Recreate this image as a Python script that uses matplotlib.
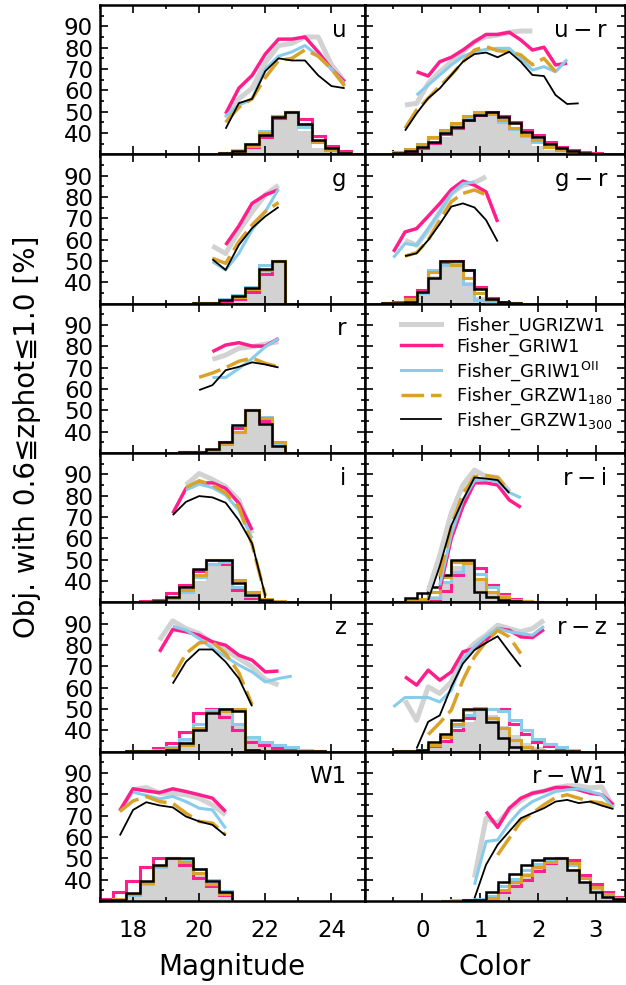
import numpy as np
import matplotlib
matplotlib.use("Agg")
import matplotlib.pyplot as plt
from matplotlib.ticker import FixedLocator, MultipleLocator
from matplotlib.lines import Line2D

plt.rcParams['font.family'] = ['DejaVu Sans']
plt.rcParams['mathtext.fontset'] = 'dejavusans'

NaN = np.nan

# ---------------- legend / series ----------------
method_names = ['Fisher_UGRIZW1', 'Fisher_GRIW1', r'Fisher_GRIW1$^{\mathrm{OII}}$',
                r'Fisher_GRZW1$_{180}$', r'Fisher_GRZW1$_{300}$']
method_colors = ['#d2d2d2', '#ff1e8c', '#87cdeb', '#d9a32a', '#000000']

# ================= Magnitude panels (left column) =================
# --- u ---
u_x = [20.8, 21.2, 21.6, 22.0, 22.4, 22.8, 23.2, 23.6, 24.0, 24.4]
u_ugrizw1 = [47, 56, 61, 73, 81, 82, 85, 85, 72, 64]
u_griw1 = [49, 61, 67, 77, 84, 84, 85, 78, 70, 64]
u_griw1oii = [48, 53, 56, 70, 76, 78, 81, 76, 70, 63]
u_grzw1_180 = [45, 52, 56, 66, 74, 75, 79, 76, 70, 62]
u_grzw1_300 = [42, 54, 56, 69, 75, 74, 74, 67, 62, 61]
u_hist_start = 20.6
u_h_ugrizw1 = [30.3, 31, 33, 39.5, 46, 50, 41, 33, 31, 30.3, 30.2]
u_h_griw1 = [30.5, 31, 33.5, 38, 47, 50, 46.5, 38.5, 34, 31.5, 30.3]
u_h_griw1oii = [30.5, 32, 35, 41, 48, 50, 43, 36, 32, 30.5, 30.2]
u_h_grzw1_180 = [30.5, 31.5, 34, 40, 48, 50, 44, 36, 32, 30.5, 30.2]
u_h_grzw1_300 = [30.5, 31.7, 34.8, 39.1, 47.6, 50, 44.2, 36.7, 32.8, 30.8, 30.2]

# --- g ---
g_x = [20.4, 20.8, 21.2, 21.6, 22.0, 22.4]
g_ugrizw1 = [57, 53.5, 64, 73, 81, 85.5]
g_griw1 = [NaN, 57.5, 66.4, 77, 81, 83.4]
g_griw1oii = [49.7, 45.8, 53.6, 64.6, 73.2, 83.7]
g_grzw1_180 = [51.3, 48.9, 59.1, 66.9, 73.2, 77.4]
g_grzw1_300 = [50.8, 45.8, 57.5, 65.4, 70.9, 75.3]
g_hist_start = 19.8
g_h_ugrizw1 = [30.2, 30.5, 31, 32.5, 36, 45, 50]
g_h_griw1 = [30.2, 30.5, 31, 32, 35.5, 44, 50]
g_h_griw1oii = [30.2, 30.5, 32, 34, 38, 48, 50]
g_h_grzw1_180 = [30.2, 30.5, 31.5, 33, 37, 46, 50]
g_h_grzw1_300 = [30.2, 30.5, 31.7, 33.6, 37.2, 46.3, 50]

# --- r ---
r_x = [20.0, 20.4, 20.8, 21.2, 21.6, 22.0, 22.4]
r_ugrizw1 = [NaN, 73.9, 75.9, 79.1, 79.8, 81, 82.2]
r_griw1 = [NaN, 77.5, 80.6, 81.7, 80.1, 80.1, 83.7]
r_griw1oii = [NaN, 65.4, 65.4, 69.6, 74.3, 79.8, 83.7]
r_grzw1_180 = [65.5, 67.5, 70, 73, 74.5, 72, 70.4]
r_grzw1_300 = [59.5, 61.8, 68.8, 70.4, 72.5, 71.5, 70.1]
r_hist_start = 19.4
r_h_ugrizw1 = [30.3, 30.5, 31.5, 34, 39, 50, 45, 33.5]
r_h_griw1 = [30.3, 30.5, 31.5, 35, 41.5, 50, 45, 34]
r_h_griw1oii = [30.3, 30.5, 31.5, 34, 40, 50, 47, 34]
r_h_grzw1_180 = [30.3, 30.5, 31.5, 34, 40, 50, 46.5, 35]
r_h_grzw1_300 = [30.3, 30.5, 32, 35, 43, 50, 43.5, 33.5]

# --- i ---
i_x = [19.2, 19.6, 20.0, 20.4, 20.8, 21.2, 21.6, 22.0]
i_ugrizw1 = [NaN, 85, 90.4, 87.6, 84.2, 77.9, 62.3, NaN]
i_griw1 = [71.7, 83.4, 86, 86, 83.4, 76.4, 63.9, NaN]
i_griw1oii = [NaN, 82.6, 85.4, 83.8, 80.3, 73.2, 60, NaN]
i_grzw1_180 = [NaN, 83.8, 87, 85, 81.3, 74.8, 57, 33]
i_grzw1_300 = [70.9, 77.1, 79.8, 79.2, 76.7, 68.5, 57.6, 33]
i_hist_start = 18.2
i_h_ugrizw1 = [30.3, 30.5, 31.5, 34, 40, 47, 49, 36, 32, 30.5, 30.2]
i_h_griw1 = [30.5, 31, 34.5, 38, 44.5, 50, 48, 36, 32, 30.5, 30.2]
i_h_griw1oii = [30.3, 30.5, 32, 35, 42, 48, 49, 37, 33, 31, 30.3]
i_h_grzw1_180 = [30.3, 30.5, 32, 36, 43, 50, 50, 40.5, 35, 31.5, 30.5]
i_h_grzw1_300 = [30.3, 30.7, 32.6, 37, 45.4, 50, 49.8, 39.2, 33.4, 31, 30.3]

# --- z ---
z_x = [18.8, 19.2, 19.6, 20.0, 20.4, 20.8, 21.2, 21.6, 22.0, 22.4, 22.8]
z_ugrizw1 = [82.3, 91.3, 87.7, 85.4, 80.7, 77.6, 73.7, 69.8, 63.8, 61.2, NaN]
z_griw1 = [76.8, 87.3, 86.2, 84.6, 81.5, 79.9, 75.2, 72.9, 67.4, 67.8, NaN]
z_griw1oii = [NaN, 88.8, 87, 83, 78.4, 74.5, 70.6, 67.4, 62.7, 64.3, 65.4]
z_grzw1_180 = [NaN, 65, 76, 81, 81.5, 76, 67, 52, NaN, NaN, NaN]
z_grzw1_300 = [NaN, 61.9, 72.1, 77.9, 77.9, 72.1, 64.3, 51.3, NaN, NaN, NaN]
z_hist_start = 17.8
z_h_ugrizw1 = [30.2, 30.3, 30.5, 31.5, 35, 41, 47, 48, 42, 37, 33.5, 31.5, 30.5, 30.3, 30.2]
z_h_griw1 = [30.2, 30.5, 31.5, 34, 39.3, 48, 50, 46.3, 40, 34.6, 33, 31.5, 30.8, 30.3, 30.2]
z_h_griw1oii = [30.2, 30.3, 30.8, 32, 36, 43, 49.5, 50, 43, 37, 34.6, 33, 32, 31, 30.5]
z_h_grzw1_180 = [30.2, 30.3, 30.5, 31.5, 33, 41, 48.5, 49, 50, 31, 30.2, 30.2, 30.2, 30.2, 30.2]
z_h_grzw1_300 = [30.2, 30.3, 30.5, 31, 34, 40, 48, 50, 49, 31, 30.2, 30.2, 30.2, 30.2, 30.2]

# --- W1 ---
w1_x = [17.6, 18.0, 18.4, 18.8, 19.2, 19.6, 20.0, 20.4, 20.8]
w1_ugrizw1 = [72, 82.1, 83.2, 80.5, 80.5, 79.8, 78.2, 75, 70.4]
w1_griw1 = [72.3, 82.6, 81.6, 80.8, 82.6, 81.3, 79.8, 78.2, 71.9]
w1_griw1oii = [NaN, 81, 79.5, 77.9, 79, 76.6, 73.5, 72.7, 64.1]
w1_grzw1_180 = [72, 76.9, 79, 76.6, 75.8, 71.2, 67.3, 66.5, 61]
w1_grzw1_300 = [60.7, 72.7, 76.3, 74.8, 73.9, 69.6, 67.3, 65.7, 60.7]
w1_hist_start = 17.0
w1_h_ugrizw1 = [30.3, 30.5, 32.5, 38, 45, 50, 48, 43, 37, 33]
w1_h_griw1 = [31, 34, 39.5, 46, 50, 50, 47, 41, 37, 33]
w1_h_griw1oii = [30.3, 31, 33, 38, 46, 50, 49, 45, 40, 34.5]
w1_h_grzw1_180 = [30.3, 31, 33.5, 38.5, 46.5, 50, 48.5, 43, 38, 33.5]
w1_h_grzw1_300 = [30.3, 30.7, 33.7, 39.2, 47, 50, 50, 45, 39.4, 34.4]

# ================= Color panels (right column) =================
# --- u-r ---
ur_x = [-0.3, -0.1, 0.1, 0.3, 0.5, 0.7, 0.9, 1.1, 1.3, 1.5, 1.7, 1.9, 2.1, 2.3, 2.5, 2.7]
ur_ugrizw1 = [53.1, 53.9, 63.3, 68.7, 73.4, 78.1, 82.8, 85.1, 85.9, 87.2, 87.8, 87.8, NaN, NaN, NaN, NaN]
ur_griw1 = [NaN, 68.7, 66.7, 73.4, 75.5, 78.9, 82.8, 86.2, 86.2, 87.2, 83.6, 78.9, 80.2, 71.9, 72.7, NaN]
ur_griw1oii = [NaN, 57.8, 62.5, 67.2, 71.9, 75.8, 78.1, 79.2, 79.7, 79.7, 75, 69.5, 71.1, 68.7, 74.5, NaN]
ur_grzw1_180 = [42.2, 50.8, 56.3, 62, 67.2, 73.4, 78.9, 80.5, 78.6, 78.1, 76.6, 72, 75, 68.7, NaN, NaN]
ur_grzw1_300 = [41.1, 49.2, 56.3, 60.9, 67.2, 73.4, 77, 77.7, 75.5, 78.1, 73.4, 67.2, 66.7, 57.8, 53.6, 53.9]
ur_hist_start = -0.5
ur_h_ugrizw1 = [30.3, 30.8, 32.5, 35, 38, 42, 45, 48, 49.5, 44, 41, 38, 34, 32, 31, 30.5, 30.2, 30.2]
ur_h_griw1 = [30.3, 31, 33, 35.5, 39.5, 42.5, 46, 48.5, 50, 48, 45, 41.5, 39, 36, 33.5, 32, 31, 30.5]
ur_h_griw1oii = [30.5, 32, 34.5, 37.5, 41, 44, 47.5, 49.5, 49, 45, 42, 38.5, 36, 33.5, 32, 31, 30.5, 30.2]
ur_h_grzw1_180 = [31, 32.5, 35, 38, 41.5, 44.5, 48, 50, 49, 46, 42.5, 39, 36.5, 33.5, 32, 31, 30.5, 30.2]
ur_h_grzw1_300 = [30.5, 31.5, 33.5, 36, 40, 43, 46, 48.5, 50, 47.5, 44.5, 40.5, 38, 35, 33, 31.5, 30.5, 30.2]

# --- g-r ---
gr_x = [-0.5, -0.3, -0.1, 0.1, 0.3, 0.5, 0.7, 0.9, 1.1, 1.3]
gr_ugrizw1 = [NaN, 59.7, 57.4, 64.4, 73, 81.6, 85.5, 86.7, 89.5, NaN]
gr_griw1 = [54.3, 63.6, 65.2, 71, 76.9, 83.5, 87.5, 85.5, 82.4, 68.3]
gr_griw1oii = [51.6, 58.2, 57.4, 65.2, 73, 81.6, 86.3, 87, NaN, NaN]
gr_grzw1_180 = [NaN, 52.3, 53.9, 59.8, 69.2, 77.8, 81.7, 83.3, 81, NaN]
gr_grzw1_300 = [NaN, 52.3, 53.6, 59.8, 67.3, 75.5, 77, 75.1, 69.2, 59.1]
gr_hist_start = -0.7
gr_h_ugrizw1 = [30.2, 30.3, 31, 34, 43, 47, 49, 40, 33, 31, 30.3, 30.2]
gr_h_griw1 = [30.3, 31, 33, 36.5, 45, 48.5, 50, 46, 38, 32.5, 31, 30.3]
gr_h_griw1oii = [30.2, 30.5, 31.5, 35, 46, 48, 49, 39, 31.5, 30.5, 30.2, 30.2]
gr_h_grzw1_180 = [30.2, 30.5, 32, 35.5, 45, 50, 48, 42, 35, 31.5, 30.3, 30.2]
gr_h_grzw1_300 = [30.2, 30.3, 31, 35.6, 41.9, 50, 50, 45.6, 37, 32.3, 30.7, 30.2]

# --- r-i ---
ri_x = [0.1, 0.3, 0.5, 0.7, 0.9, 1.1, 1.3, 1.5, 1.7]
ri_ugrizw1 = [35, 52, 72, 85, 92, 89, 88.5, 82, NaN]
ri_griw1 = [NaN, 36, 60, 75, 86, 86, 85, 78, 74.5]
ri_griw1oii = [NaN, 38, 62, 78, 87, 87.5, 86.5, 81.5, 79]
ri_grzw1_180 = [NaN, 42, 66, 81, 89, 89.5, 88.5, 82, NaN]
ri_grzw1_300 = [31, 47, 66, 78, 88.5, 88, 87.3, 81.3, NaN]
ri_hist_start = -0.5
ri_h_ugrizw1 = [30.2, 30.2, 30.5, 33, 40, 47, 49.5, 40, 34, 32, 30.5, 30.2, 30.2]
ri_h_griw1 = [30.2, 30.2, 30.3, 31, 35.5, 42.8, 50, 45.9, 38, 34, 31.5, 30.5, 30.2]
ri_h_griw1oii = [30.2, 30.2, 30.5, 32, 39.5, 44, 50, 43.5, 37, 33, 31, 30.5, 30.2]
ri_h_grzw1_180 = [30.2, 30.5, 31.5, 35, 42, 49, 48.5, 41, 35, 32.5, 31, 30.5, 30.2]
ri_h_grzw1_300 = [30.2, 31.8, 34.2, 37.3, 42.8, 50, 50, 35, 32.5, 31, 30.5, 30.2, 30.2]

# --- r-z ---
rz_x = [-0.5, -0.3, -0.1, 0.1, 0.3, 0.5, 0.7, 0.9, 1.1, 1.3, 1.5, 1.7, 1.9, 2.1]
rz_ugrizw1 = [NaN, 54, 44.7, 60.4, 57.3, 62.7, 75.2, 80.7, 84.6, 89.3, 87.7, 86.2, 87.7, 91.6]
rz_griw1 = [NaN, 65.1, 61.2, 68.2, 63.5, 67.4, 76.8, 78.4, 82.3, 87.7, 86.9, 83.8, 83.5, 87.3]
rz_griw1oii = [51, 55.4, 55.4, 55.4, 53.3, 58.8, 73, 79.3, 84, 87.8, 86.2, 85.4, 84.6, 88.8]
rz_grzw1_180 = [NaN, NaN, NaN, 38, 43.5, 49.5, 63.5, 74.5, 81.5, 86.9, 83.8, 76, NaN, NaN]
rz_grzw1_300 = [NaN, NaN, 31.5, 44, 47, 60.4, 71.3, 77.6, 81, 84.1, 76.8, 69.8, NaN, NaN]
rz_hist_start = -0.5
rz_h_ugrizw1 = [30.2, 30.2, 30.5, 32, 35, 39, 44, 49, 47, 42, 38, 34, 32, 31, 30.5, 30.2]
rz_h_griw1 = [30.2, 30.2, 30.5, 32.5, 35, 40, 46, 50, 50, 50, 43, 38.5, 34.6, 32.5, 31, 30.5]
rz_h_griw1oii = [30.2, 30.3, 31, 33, 37, 42, 47, 50, 50, 49, 45, 40, 36, 33.5, 32.3, 31]
rz_h_grzw1_180 = [30.2, 30.3, 31, 33, 37, 43, 49.5, 50.5, 46, 41, 35.5, 32, 30.8, 30.3, 30.2, 30.2]
rz_h_grzw1_300 = [30.2, 30.3, 31, 34.6, 38.5, 44.8, 50, 50, 44, 36.2, 32.3, 30.5, 30.2, 30.2, 30.2, 30.2]

# --- r-W1 ---
rw1_x = [0.9, 1.1, 1.3, 1.5, 1.7, 1.9, 2.1, 2.3, 2.5, 2.7, 2.9, 3.1, 3.3]
rw1_ugrizw1 = [41, 68.8, 66.5, 72.7, 77, 80.5, 81.5, 83, 84, 84, 83, 83.5, 74]
rw1_griw1 = [NaN, 71.9, 64.5, 73.5, 78.2, 80.5, 81.6, 83.2, 83.2, 82.1, 80.5, 79.8, 75.1]
rw1_griw1oii = [37.6, 57.9, 58.6, 66.5, 72.7, 76.6, 79, 81.3, 82.1, 82.6, 81.3, 79.8, 73.5]
rw1_grzw1_180 = [NaN, NaN, 51.6, 59.4, 67.3, 71.2, 75.1, 78.5, 79.8, 78.2, 76.6, 76, 73.5]
rw1_grzw1_300 = [31.3, 47, 56.4, 62.6, 68.8, 71.2, 73.5, 76.6, 77.4, 75.9, 76.6, 74.7, 73.1]
rw1_hist_start = 0.3
rw1_h_ugrizw1 = [30.2, 30.2, 30.3, 30.5, 32, 35, 38.5, 43, 46, 48, 49.5, 45, 39, 35, 32.5, 31]
rw1_h_griw1 = [30.2, 30.2, 30.3, 30.5, 31, 34, 37, 40, 44, 48, 50, 49, 42, 38, 34, 32]
rw1_h_griw1oii = [30.2, 30.3, 30.5, 31, 32.5, 37, 40.5, 44.5, 47.5, 49.5, 50, 47, 41, 36, 33, 31.5]
rw1_h_grzw1_180 = [30.2, 30.2, 30.3, 30.5, 31.5, 35, 39, 42, 46, 48.5, 50, 48, 41, 36.5, 33.5, 31.5]
rw1_h_grzw1_300 = [30.2, 30.2, 30.3, 30.5, 34.4, 39.1, 42.6, 47, 49.3, 50, 50, 44.6, 39, 34.4, 32, 30.8]

panels = [
    (0, 0, 'u', u_x, [u_ugrizw1, u_griw1, u_griw1oii, u_grzw1_180, u_grzw1_300],
     u_hist_start, [u_h_ugrizw1, u_h_griw1, u_h_griw1oii, u_h_grzw1_180, u_h_grzw1_300]),
    (1, 0, 'g', g_x, [g_ugrizw1, g_griw1, g_griw1oii, g_grzw1_180, g_grzw1_300],
     g_hist_start, [g_h_ugrizw1, g_h_griw1, g_h_griw1oii, g_h_grzw1_180, g_h_grzw1_300]),
    (2, 0, 'r', r_x, [r_ugrizw1, r_griw1, r_griw1oii, r_grzw1_180, r_grzw1_300],
     r_hist_start, [r_h_ugrizw1, r_h_griw1, r_h_griw1oii, r_h_grzw1_180, r_h_grzw1_300]),
    (3, 0, 'i', i_x, [i_ugrizw1, i_griw1, i_griw1oii, i_grzw1_180, i_grzw1_300],
     i_hist_start, [i_h_ugrizw1, i_h_griw1, i_h_griw1oii, i_h_grzw1_180, i_h_grzw1_300]),
    (4, 0, 'z', z_x, [z_ugrizw1, z_griw1, z_griw1oii, z_grzw1_180, z_grzw1_300],
     z_hist_start, [z_h_ugrizw1, z_h_griw1, z_h_griw1oii, z_h_grzw1_180, z_h_grzw1_300]),
    (5, 0, 'W1', w1_x, [w1_ugrizw1, w1_griw1, w1_griw1oii, w1_grzw1_180, w1_grzw1_300],
     w1_hist_start, [w1_h_ugrizw1, w1_h_griw1, w1_h_griw1oii, w1_h_grzw1_180, w1_h_grzw1_300]),
    (0, 1, 'u\u2009\u2212\u2009r', ur_x, [ur_ugrizw1, ur_griw1, ur_griw1oii, ur_grzw1_180, ur_grzw1_300],
     ur_hist_start, [ur_h_ugrizw1, ur_h_griw1, ur_h_griw1oii, ur_h_grzw1_180, ur_h_grzw1_300]),
    (1, 1, 'g\u2009\u2212\u2009r', gr_x, [gr_ugrizw1, gr_griw1, gr_griw1oii, gr_grzw1_180, gr_grzw1_300],
     gr_hist_start, [gr_h_ugrizw1, gr_h_griw1, gr_h_griw1oii, gr_h_grzw1_180, gr_h_grzw1_300]),
    (3, 1, 'r\u2009\u2212\u2009i', ri_x, [ri_ugrizw1, ri_griw1, ri_griw1oii, ri_grzw1_180, ri_grzw1_300],
     ri_hist_start, [ri_h_ugrizw1, ri_h_griw1, ri_h_griw1oii, ri_h_grzw1_180, ri_h_grzw1_300]),
    (4, 1, 'r\u2009\u2212\u2009z', rz_x, [rz_ugrizw1, rz_griw1, rz_griw1oii, rz_grzw1_180, rz_grzw1_300],
     rz_hist_start, [rz_h_ugrizw1, rz_h_griw1, rz_h_griw1oii, rz_h_grzw1_180, rz_h_grzw1_300]),
    (5, 1, 'r\u2009\u2212\u2009W1', rw1_x, [rw1_ugrizw1, rw1_griw1, rw1_griw1oii, rw1_grzw1_180, rw1_grzw1_300],
     rw1_hist_start, [rw1_h_ugrizw1, rw1_h_griw1, rw1_h_griw1oii, rw1_h_grzw1_180, rw1_h_grzw1_300]),
]

# ---------------- figure layout ----------------
W, H = 626, 985
fig = plt.figure(figsize=(W / 100, H / 100), dpi=100)
left_px, mid_px, right_px = 100, 364.5, 625
top_px, bot_px = 5, 901
row_h = (bot_px - top_px) / 6

line_lw = [3.6, 2.5, 2.2, 2.5, 1.3]
hist_lw = [0, 2.2, 2.2, 2.2, 1.8]

axes = {}
for row in range(6):
    for col in range(2):
        x0 = left_px if col == 0 else mid_px
        x1 = mid_px if col == 0 else right_px
        ax = fig.add_axes([x0 / W, (H - bot_px + (5 - row) * row_h) / H, (x1 - x0) / W, row_h / H])
        axes[(row, col)] = ax
        ax.set_ylim(30, 100)
        ax.yaxis.set_major_locator(FixedLocator([40, 50, 60, 70, 80, 90]))
        ax.yaxis.set_minor_locator(FixedLocator([35, 45, 55, 65, 75, 85, 95]))
        if col == 0:
            ax.set_xlim(17, 25)
            ax.xaxis.set_major_locator(FixedLocator([18, 20, 22, 24]))
            ax.xaxis.set_minor_locator(MultipleLocator(1))
        else:
            ax.set_xlim(-1, 3.5)
            ax.xaxis.set_major_locator(FixedLocator([0, 1, 2, 3]))
            ax.xaxis.set_minor_locator(MultipleLocator(0.5))
        ax.tick_params(which='both', direction='in', top=True, right=True,
                       labelsize=16.5, width=1.2)
        ax.tick_params(which='major', length=6)
        ax.tick_params(which='minor', length=3)
        ax.tick_params(axis='x', pad=13)
        ax.tick_params(axis='y', pad=5)
        if col == 1:
            ax.tick_params(labelleft=False)
        if row != 5:
            ax.tick_params(labelbottom=False)
        for s in ax.spines.values():
            s.set_linewidth(1.8)

for (row, col, label, xs, lines, hstart, hists) in panels:
    ax = axes[(row, col)]
    width = 0.4 if col == 0 else 0.2
    for k, (h, c) in enumerate(zip(hists, method_colors)):
        edges = np.round(hstart + width * np.arange(len(h) + 1), 3)
        if k == 0:
            ax.stairs(h, edges, baseline=30, fill=True, color=c, lw=0, zorder=1)
        else:
            ax.stairs(h, edges, baseline=30, color=c, lw=hist_lw[k], zorder=1 + k)
    for k, (yv, c) in enumerate(zip(lines, method_colors)):
        kw = dict(color=c, lw=line_lw[k], zorder=10 + k, solid_capstyle='butt')
        if k == 3:
            kw['dashes'] = (6.5, 2)
        ax.plot(xs, yv, **kw)
    ax.text(1 - 18 / ax.bbox.width, 1 - 31.6 / row_h, label,
            transform=ax.transAxes, ha='right', va='baseline', fontsize=16.5, zorder=20)

# legend in the empty colour panel
leg_ax = axes[(2, 1)]
handles = []
for k, c in enumerate(method_colors):
    kw = dict(color=c, lw=line_lw[k])
    if k == 3:
        kw['dashes'] = (6.5, 2)
    handles.append(Line2D([], [], **kw))
leg_ax.legend(handles, method_names, loc='upper left', bbox_to_anchor=(0.14, 0.915),
              frameon=False, fontsize=13, handlelength=2.2, handletextpad=0.85,
              labelspacing=0.17, borderpad=0, borderaxespad=0)

fig.text((left_px + mid_px) / 2 / W, 1 - 975 / H, 'Magnitude', ha='center', va='baseline', fontsize=20)
fig.text((mid_px + right_px) / 2 / W, 1 - 975 / H, 'Color', ha='center', va='baseline', fontsize=20)
fig.text(27 / W, 1 - 437 / H, 'Obj. with 0.6\u2266zphot\u22661.0 [%]', rotation=90,
         ha='center', va='center', fontsize=20)

fig.savefig('out.png', dpi=100)
